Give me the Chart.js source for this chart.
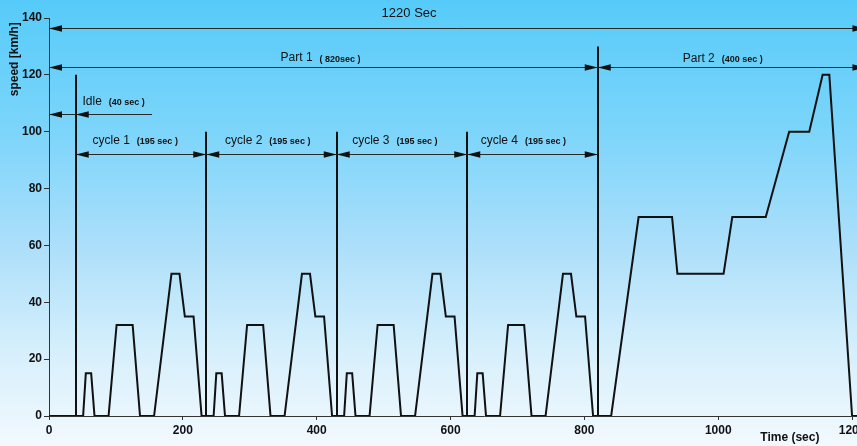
<!DOCTYPE html>
<html>
<head>
<meta charset="utf-8">
<script src="https://cdn.jsdelivr.net/npm/chart.js@4.4.1/dist/chart.umd.min.js"></script>
<style>
  html, body { margin: 0; padding: 0; overflow: hidden; width: 857px; height: 446px; background: #f3faff; }
  #wrap { width: 857px; height: 446px; overflow: hidden; position: relative; }
  canvas { display: block; }
</style>
</head>
<body>
<div id="wrap"><canvas id="c" width="930" height="446"></canvas></div>
<script>
// Speed profile: four urban cycles (after 40 s idle) followed by the extra-urban part
const timeSec = [
  0, 51, 55, 63, 68, 89, 101, 125, 136, 157, 183, 195, 203, 216, 228,
  246, 250, 258, 263, 284, 296, 320, 331, 352, 378, 390, 398, 411, 423,
  441, 445, 453, 458, 479, 491, 515, 526, 547, 573, 585, 593, 606, 618,
  636, 640, 648, 653, 674, 686, 710, 721, 742, 768, 780, 788, 801, 813,
  840, 881, 931, 939, 1008, 1021, 1071, 1106, 1136, 1156, 1166, 1200, 1220
];
const speedKmh = [
  0, 0, 15, 15, 0, 0, 32, 32, 0, 0, 50, 50, 35, 35, 0,
  0, 15, 15, 0, 0, 32, 32, 0, 0, 50, 50, 35, 35, 0,
  0, 15, 15, 0, 0, 32, 32, 0, 0, 50, 50, 35, 35, 0,
  0, 15, 15, 0, 0, 32, 32, 0, 0, 50, 50, 35, 35, 0,
  0, 70, 70, 50, 50, 70, 70, 100, 100, 120, 120, 0, 0
];

const xTickValues = [0, 200, 400, 600, 800, 1000, 1200];
const yTickValues = [0, 20, 40, 60, 80, 100, 120, 140];

// Phase boundaries (s) and the speed level each marker line reaches
const boundaryTimes = [40, 235, 430, 625, 820];
const boundaryTops = [120, 100, 100, 100, 130];

// Dimension arrows: name, duration note, extent (s), level (km/h)
const spanNames = ['1220 Sec', 'Part 1', 'Part 2', 'Idle', 'cycle 1', 'cycle 2', 'cycle 3', 'cycle 4'];
const spanNotes = ['', '( 820sec )', '(400 sec )', '(40 sec )', '(195 sec )', '(195 sec )', '(195 sec )', '(195 sec )'];
const spanFrom = [0, 0, 820, 0, 40, 235, 430, 625];
const spanTo = [1220, 820, 1220, 154, 235, 430, 625, 820];
const spanLevel = [136.6, 122.8, 122.6, 106.4, 92, 92, 92, 92];
// arrowheads: [time, direction] (-1 points left, +1 points right)
const spanHeads = [
  [[0, -1], [1220, 1]],
  [[0, -1], [820, 1]],
  [[820, -1], [1220, 1]],
  [[0, -1], [40, -1]],
  [[40, -1], [235, 1]],
  [[235, -1], [430, 1]],
  [[430, -1], [625, 1]],
  [[625, -1], [820, 1]]
];
// where each caption starts (s) and its vertical level (km/h)
const labelAt = [497, 346, 947, 50, 65, 263, 453, 645];
const labelLevel = [141.7, 125.9, 125.8, 110.6, 96.9, 96.9, 96.9, 96.9];

const FONT = '"Liberation Sans", Arial, Helvetica, sans-serif';
const INK = '#111';

const backdrop = {
  id: 'backdrop',
  beforeDraw(chart) {
    const { ctx, width, height } = chart;
    const g = ctx.createLinearGradient(0, 0, 0, height);
    g.addColorStop(0, '#56cbf9');
    g.addColorStop(0.3, '#7dd5fa');
    g.addColorStop(0.55, '#acdffa');
    g.addColorStop(0.8, '#d8f0fc');
    g.addColorStop(1, '#f2f9fe');
    ctx.save();
    ctx.fillStyle = g;
    ctx.fillRect(0, 0, width, height);
    ctx.restore();
  }
};

function arrowHead(ctx, tipX, y, dir) {
  const len = 13, half = 3.3;
  ctx.beginPath();
  ctx.moveTo(tipX, y);
  ctx.lineTo(tipX - dir * len, y - half);
  ctx.lineTo(tipX - dir * len, y + half);
  ctx.closePath();
  ctx.fill();
}

const annotations = {
  id: 'annotations',
  afterDatasetsDraw(chart) {
    const { ctx } = chart;
    const xs = chart.scales.x, ys = chart.scales.y;
    ctx.save();

    // phase boundary markers
    ctx.strokeStyle = INK;
    ctx.lineWidth = 2;
    boundaryTimes.forEach((t, i) => {
      const px = Math.round(xs.getPixelForValue(t));
      ctx.beginPath();
      ctx.moveTo(px, ys.getPixelForValue(0));
      ctx.lineTo(px, ys.getPixelForValue(boundaryTops[i]));
      ctx.stroke();
    });

    // dimension arrows
    ctx.lineWidth = 1;
    ctx.strokeStyle = '#2a2a2a';
    ctx.fillStyle = INK;
    spanNames.forEach((name, i) => {
      const y = Math.round(ys.getPixelForValue(spanLevel[i])) + 0.5;
      ctx.beginPath();
      ctx.moveTo(xs.getPixelForValue(spanFrom[i]), y);
      ctx.lineTo(xs.getPixelForValue(spanTo[i]), y);
      ctx.stroke();
      spanHeads[i].forEach(([t, dir]) => arrowHead(ctx, xs.getPixelForValue(t), y, dir));

      // caption
      const lx = xs.getPixelForValue(labelAt[i]);
      const ly = ys.getPixelForValue(labelLevel[i]);
      ctx.textBaseline = 'middle';
      ctx.textAlign = 'left';
      ctx.font = (i === 0 ? '13px ' : '12px ') + FONT;
      ctx.fillText(name, lx, ly);
      if (spanNotes[i]) {
        const w = ctx.measureText(name).width;
        ctx.font = 'bold 9px ' + FONT;
        ctx.fillText(spanNotes[i], lx + w + 7, ly + 1);
      }
    });

    // axis titles
    ctx.font = 'bold 12px ' + FONT;
    ctx.fillStyle = INK;
    ctx.textAlign = 'center';
    ctx.textBaseline = 'middle';
    ctx.fillText('Time (sec)', xs.getPixelForValue(1107), chart.chartArea.bottom + 22);
    ctx.translate(chart.chartArea.left - 34, ys.getPixelForValue(125.5));
    ctx.rotate(-Math.PI / 2);
    ctx.font = 'bold 12px ' + FONT;
    ctx.fillText('speed [km/h]', 0, 0);
    ctx.restore();
  }
};

new Chart(document.getElementById('c'), {
  type: 'line',
  data: {
    datasets: [{
      data: timeSec.map((t, i) => ({ x: t, y: speedKmh[i] })),
      borderColor: INK,
      borderWidth: 2,
      pointRadius: 0,
      tension: 0,
      fill: false
    }]
  },
  options: {
    responsive: false,
    animation: false,
    devicePixelRatio: 1,
    layout: { padding: { top: 18, right: 11, bottom: 0, left: 0 } },
    plugins: { legend: { display: false }, tooltip: { enabled: false } },
    scales: {
      x: {
        type: 'linear',
        min: 0,
        max: 1300,
        afterBuildTicks(scale) { scale.ticks = xTickValues.map(v => ({ value: v })); },
        afterFit(scale) { scale.height = 30; },
        grid: { drawOnChartArea: false, drawTicks: true, tickLength: 4, color: '#333' },
        border: { display: true, color: '#333', width: 1 },
        ticks: {
          color: INK, padding: 3, maxRotation: 0,
          font: { family: FONT, size: 12, weight: 'bold' },
          callback: v => String(v)
        }
      },
      y: {
        type: 'linear',
        min: 0,
        max: 140,
        afterBuildTicks(scale) { scale.ticks = yTickValues.map(v => ({ value: v })); },
        afterFit(scale) { scale.width = 49; },
        grid: { drawOnChartArea: false, drawTicks: true, tickLength: 5, color: '#333' },
        border: { display: true, color: '#333', width: 1 },
        ticks: {
          color: INK, padding: 2,
          font: { family: FONT, size: 12, weight: 'bold' },
          callback: v => String(v)
        }
      }
    }
  },
  plugins: [backdrop, annotations]
});
</script>
</body>
</html>
